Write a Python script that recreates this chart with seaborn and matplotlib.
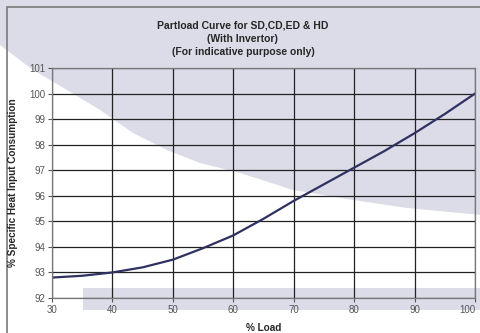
import numpy as np
import pandas as pd
import matplotlib
matplotlib.use('Agg')
import matplotlib.pyplot as plt
from matplotlib.patches import Polygon, Rectangle
import seaborn as sns

# values
load = [30, 35, 40, 45, 50, 55, 60, 65, 70, 75, 80, 85, 90, 95, 100]
heat = [92.8, 92.87, 93.0, 93.2, 93.5, 93.95, 94.45, 95.1, 95.8, 96.45,
        97.1, 97.75, 98.45, 99.2, 100.0]
x_ticks = [30, 40, 50, 60, 70, 80, 90, 100]
y_ticks = [92, 93, 94, 95, 96, 97, 98, 99, 100, 101]

df = pd.DataFrame({'load': load, 'heat': heat})

sns.set_style('white')
plt.rcParams['font.family'] = ['Liberation Sans', 'DejaVu Sans']

W, H = 481, 333
fig = plt.figure(figsize=(W / 100, H / 100), dpi=100)

# scan watermark shapes behind everything
lav = '#dcdce9'
arc = [(0, 0), (481, 0), (481, 215), (407, 208), (353, 200), (293, 190),
       (240, 173), (200, 163), (167, 150), (133, 133), (100, 110),
       (67, 90), (33, 70), (0, 45)]
fig.patches.append(Polygon([(x / W, 1 - y / H) for x, y in arc], closed=True,
                           transform=fig.transFigure, facecolor=lav,
                           edgecolor='none', zorder=0))
fig.patches.append(Rectangle((83 / W, 1 - 310 / H), (W - 83) / W, 22 / H,
                             transform=fig.transFigure, facecolor=lav,
                             edgecolor='none', zorder=0))
# outer chart frame
fig.patches.append(Rectangle((7 / W, -0.02), 0.99, 1 - 7 / H + 0.02,
                             transform=fig.transFigure, facecolor='none',
                             edgecolor='#7a7a7a', linewidth=1.2, zorder=1))

ax = fig.add_axes([52 / W, 35 / H, 423 / W, 230 / H])
ax.set_facecolor('none')
ax.set_zorder(2)

sns.lineplot(data=df, x='load', y='heat', ax=ax, color='#2f3160', linewidth=1.6)

ax.set_xlim(30, 100)
ax.set_ylim(92, 101)
ax.set_xticks(x_ticks)
ax.set_yticks(y_ticks)
ax.grid(True, color='#222222', linewidth=0.9)
ax.tick_params(axis='both', labelsize=7, colors='#555555', length=3,
               direction='out', left=True, bottom=True, pad=2)
# keep the last x label inside the picture
ax.get_xticklabels()[-1].set_horizontalalignment('right')
for s in ax.spines.values():
    s.set_color('#777777')
    s.set_linewidth(0.9)

ax.set_xlabel('% Load', fontsize=7.2, fontweight='bold', labelpad=6)
ax.set_ylabel('% Specific Heat Input Consumption', fontsize=7.2,
              fontweight='bold', labelpad=8)

fig.text(0.505, 1 - 26 / H, 'Partload Curve for SD,CD,ED & HD', ha='center',
         va='center', fontsize=7.5, fontweight='bold')
fig.text(0.505, 1 - 39 / H, '(With Invertor)', ha='center', va='center',
         fontsize=7.5, fontweight='bold')
fig.text(0.505, 1 - 52 / H, '(For indicative purpose only)', ha='center',
         va='center', fontsize=7.5, fontweight='bold')

fig.savefig('out.png', dpi=100)
